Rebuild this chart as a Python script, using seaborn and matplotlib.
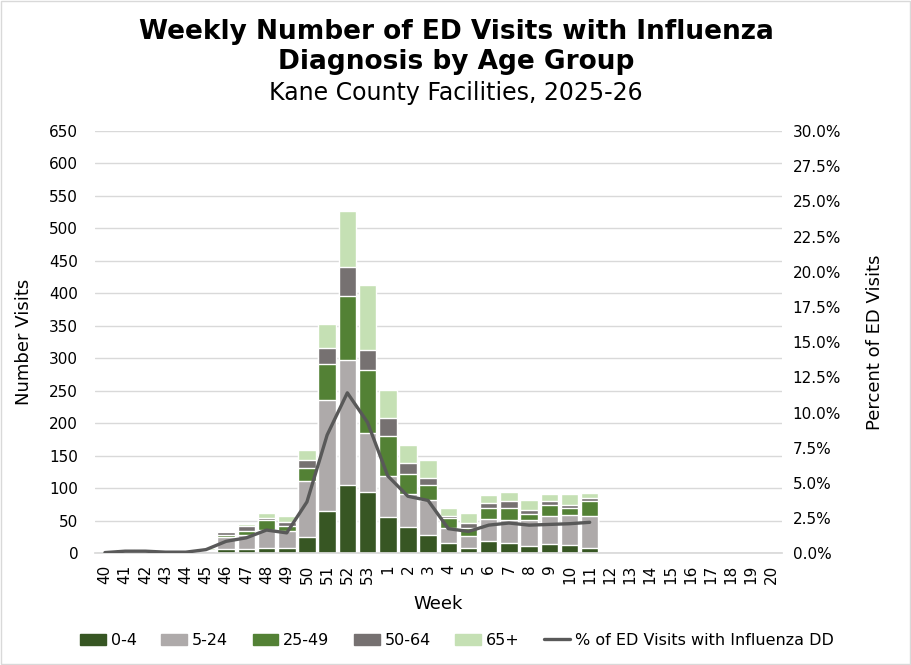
import pandas as pd
import numpy as np
import matplotlib.pyplot as plt
import matplotlib.patches as mpatches
from matplotlib.lines import Line2D
from matplotlib.ticker import PercentFormatter
import seaborn as sns

weeks = [str(w) for w in range(40, 54)] + [str(w) for w in range(1, 21)]
data_weeks = [str(w) for w in range(40, 54)] + [str(w) for w in range(1, 12)]

age_0_4 = [0, 1, 0, 0, 0, 0, 6, 6, 8, 8, 25, 65, 105, 95, 56, 40, 28, 16, 8, 19, 16, 11, 14, 12, 8]
age_5_24 = [1, 3, 2, 1, 1, 3, 19, 22, 28, 26, 87, 171, 192, 90, 63, 52, 54, 23, 19, 33, 35, 40, 43, 47, 49]
age_25_49 = [0, 2, 1, 0, 0, 2, 3, 6, 15, 8, 20, 56, 99, 97, 61, 30, 23, 16, 12, 18, 19, 9, 17, 11, 23]
age_50_64 = [0, 1, 0, 0, 0, 0, 5, 8, 3, 6, 11, 24, 45, 31, 28, 17, 11, 2, 8, 8, 10, 6, 6, 5, 5]
age_65 = [2, 0, 0, 0, 0, 3, 1, 3, 8, 10, 16, 37, 86, 100, 43, 27, 27, 12, 15, 11, 15, 16, 11, 16, 8]
pct_flu = [0.05, 0.15, 0.15, 0.08, 0.08, 0.26, 0.85, 1.1, 1.65, 1.45, 3.65, 8.4, 11.4, 9.3,
           5.5, 4.05, 3.75, 1.75, 1.55, 2.0, 2.15, 2.0, 2.05, 2.1, 2.2]

groups = ['0-4', '5-24', '25-49', '50-64', '65+']
colors = ['#375623', '#AEAAAA', '#538135', '#767171', '#C5E0B4']
line_color = '#595959'

df = pd.DataFrame({'Week': data_weeks, '0-4': age_0_4, '5-24': age_5_24,
                   '25-49': age_25_49, '50-64': age_50_64, '65+': age_65})
cum = df[groups].cumsum(axis=1)
cum['Week'] = df['Week']

sns.set_theme(style='white')
plt.rcParams['font.family'] = ['DejaVu Sans']
plt.rcParams['text.color'] = 'black'
plt.rcParams['axes.labelcolor'] = 'black'
plt.rcParams['xtick.color'] = 'black'
plt.rcParams['ytick.color'] = 'black'

fig = plt.figure(figsize=(9.12, 6.65), dpi=100)
ax = fig.add_axes([0.104, 0.168, 0.753, 0.635])

# stacked bars: draw cumulative totals from top group down
for g, c in zip(groups[::-1], colors[::-1]):
    sns.barplot(data=cum, x='Week', y=g, order=weeks, color=c, width=0.87,
                saturation=1, ax=ax, zorder=2)

ax.set_ylim(0, 650)
ax.set_yticks(range(0, 651, 50))
ax.set_xlim(-0.5, len(weeks) - 0.5)
ax.grid(axis='y', color='#D9D9D9', linewidth=1, zorder=0)
ax.set_axisbelow(True)
for s in ['top', 'right', 'left']:
    ax.spines[s].set_visible(False)
ax.spines['bottom'].set_color('#D9D9D9')
ax.tick_params(axis='x', labelrotation=90, labelsize=11, length=0, pad=8)
ax.tick_params(axis='y', labelsize=11, length=0, pad=12)
ax.set_xlabel('Week', fontsize=13, labelpad=8)
ax.set_ylabel('Number Visits', fontsize=13, labelpad=12)

ax2 = ax.twinx()
line_df = pd.DataFrame({'pos': np.arange(len(data_weeks)), 'pct': pct_flu})
sns.lineplot(data=line_df, x='pos', y='pct', color=line_color, linewidth=2.4, ax=ax2)
ax2.set_ylim(0, 30)
ax2.set_yticks(np.arange(0, 30.1, 2.5))
ax2.yaxis.set_major_formatter(PercentFormatter(decimals=1))
ax2.set_xlim(-0.5, len(weeks) - 0.5)
for s in ['top', 'right', 'left', 'bottom']:
    ax2.spines[s].set_visible(False)
ax2.tick_params(axis='y', labelsize=11, length=0, pad=8)
ax2.set_ylabel('Percent of ED Visits', fontsize=13, labelpad=18)
ax2.set_xlabel('')

fig.text(0.5, 0.929, 'Weekly Number of ED Visits with Influenza\nDiagnosis by Age Group',
         ha='center', va='center', fontsize=19, fontweight='bold', linespacing=1.2)
fig.text(0.5, 0.860, 'Kane County Facilities, 2025-26', ha='center', va='center', fontsize=17)

handles = [mpatches.Patch(color=c, label=g) for g, c in zip(groups, colors)]
handles.append(Line2D([0], [0], color=line_color, linewidth=2.4,
                      label='% of ED Visits with Influenza DD'))
fig.legend(handles=handles, loc='center', bbox_to_anchor=(0.501, 0.037), ncol=6,
           frameon=False, fontsize=11.5, handlelength=1.6, handletextpad=0.3,
           columnspacing=1.55)

fig.patches.append(mpatches.Rectangle((0.001, 0.001), 0.997, 0.997, transform=fig.transFigure,
                                      fill=False, edgecolor='#D9D9D9', linewidth=1))

fig.savefig('out.png', dpi=100)
